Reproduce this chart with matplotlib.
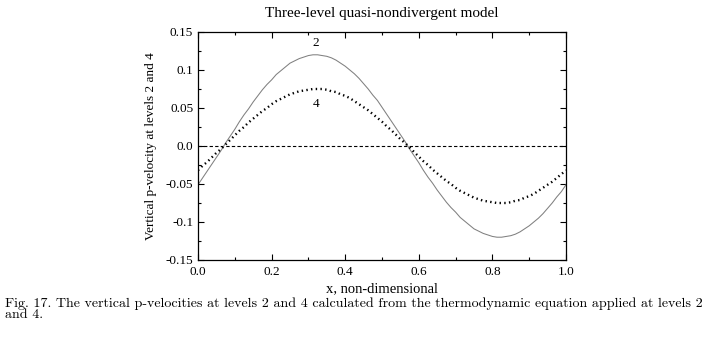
import matplotlib.pyplot as plt
from matplotlib.ticker import MultipleLocator

# values
x = [0.0, 0.0125, 0.025, 0.0375, 0.05, 0.0625, 0.075, 0.0875, 0.1, 0.1125,
     0.125, 0.1375, 0.15, 0.1625, 0.175, 0.1875, 0.2, 0.2125, 0.225, 0.2375,
     0.25, 0.2625, 0.275, 0.2875, 0.3, 0.3125, 0.325, 0.3375, 0.35, 0.3625,
     0.375, 0.3875, 0.4, 0.4125, 0.425, 0.4375, 0.45, 0.4625, 0.475, 0.4875,
     0.5, 0.5125, 0.525, 0.5375, 0.55, 0.5625, 0.575, 0.5875, 0.6, 0.6125,
     0.625, 0.6375, 0.65, 0.6625, 0.675, 0.6875, 0.7, 0.7125, 0.725, 0.7375,
     0.75, 0.7625, 0.775, 0.7875, 0.8, 0.8125, 0.825, 0.8375, 0.85, 0.8625,
     0.875, 0.8875, 0.9, 0.9125, 0.925, 0.9375, 0.95, 0.9625, 0.975, 0.9875,
     1.0]
level2 = [-0.051, -0.042, -0.033, -0.024, -0.015, -0.006, 0.004, 0.013, 0.022, 0.032,
          0.041, 0.049, 0.058, 0.066, 0.074, 0.081, 0.087, 0.094, 0.099, 0.104,
          0.109, 0.112, 0.115, 0.117, 0.119, 0.120, 0.120, 0.119, 0.118, 0.116,
          0.113, 0.109, 0.105, 0.100, 0.095, 0.089, 0.082, 0.075, 0.067, 0.060,
          0.051, 0.042, 0.033, 0.024, 0.015, 0.006, -0.004, -0.013, -0.022, -0.032,
          -0.041, -0.049, -0.058, -0.066, -0.074, -0.081, -0.087, -0.094, -0.099, -0.104,
          -0.109, -0.112, -0.115, -0.117, -0.119, -0.120, -0.120, -0.119, -0.118, -0.116,
          -0.113, -0.109, -0.105, -0.100, -0.095, -0.089, -0.082, -0.075, -0.067, -0.060,
          -0.051]
level4 = [-0.032, -0.026, -0.021, -0.015, -0.009, -0.004, 0.002, 0.008, 0.014, 0.020,
          0.025, 0.031, 0.036, 0.041, 0.046, 0.050, 0.055, 0.059, 0.062, 0.065,
          0.068, 0.070, 0.072, 0.073, 0.074, 0.075, 0.075, 0.075, 0.074, 0.072,
          0.071, 0.068, 0.066, 0.063, 0.059, 0.055, 0.051, 0.047, 0.042, 0.037,
          0.032, 0.026, 0.021, 0.015, 0.009, 0.004, -0.002, -0.008, -0.014, -0.020,
          -0.025, -0.031, -0.036, -0.041, -0.046, -0.050, -0.055, -0.059, -0.062, -0.065,
          -0.068, -0.070, -0.072, -0.073, -0.074, -0.075, -0.075, -0.075, -0.074, -0.072,
          -0.071, -0.068, -0.066, -0.063, -0.059, -0.055, -0.051, -0.047, -0.042, -0.037,
          -0.032]
xticks = [0.0, 0.2, 0.4, 0.6, 0.8, 1.0]
xticklabels = ['0.0', '0.2', '0.4', '0.6', '0.8', '1.0']
yticks = [-0.15, -0.1, -0.05, 0.0, 0.05, 0.1, 0.15]
yticklabels = ['-0.15', '-0.1', '-0.05', '0.0', '0.05', '0.1', '0.15']

plt.rcParams['font.family'] = ['Liberation Serif', 'DejaVu Serif']

fig = plt.figure(figsize=(7.18, 3.46), dpi=100)
ax = fig.add_axes([198 / 718, 1 - 260 / 346, (566 - 198) / 718, (260 - 32) / 346])

ax.axhline(0, color='black', lw=0.8, linestyle=(0, (3, 2)))
ax.plot(x, level2, color='#808080', lw=0.75)
ax.plot(x, level4, color='black', lw=1.7, linestyle=(0, (0.6, 1.4)))

ax.text(0.32, 0.127, '2', ha='center', va='bottom', fontsize=9.5)
ax.text(0.32, 0.063, '4', ha='center', va='top', fontsize=9.5)

ax.set_xlim(0, 1)
ax.set_ylim(-0.15, 0.15)
ax.set_xticks(xticks)
ax.set_xticklabels(xticklabels)
ax.set_yticks(yticks)
ax.set_yticklabels(yticklabels)
ax.xaxis.set_minor_locator(MultipleLocator(0.1))
ax.yaxis.set_minor_locator(MultipleLocator(0.025))
ax.tick_params(which='both', direction='in', top=True, right=True, labelsize=9.5, width=0.8)
ax.tick_params(which='major', length=4)
ax.tick_params(which='minor', length=2.5)
ax.tick_params(axis='x', which='major', pad=4.5)
ax.tick_params(axis='y', which='major', pad=3.5)
for s in ax.spines.values():
    s.set_linewidth(0.9)

ax.set_title('Three-level quasi-nondivergent model', fontsize=11, pad=11)
ax.set_xlabel('x, non-dimensional', fontsize=10.5, labelpad=3)
ax.set_ylabel('Vertical p-velocity at levels 2 and 4', fontsize=9.5, labelpad=6)

caption = ('Fig. 17. The vertical p-velocities at levels 2 and 4 calculated from the '
           'thermodynamic equation applied at levels 2\nand 4.')
fig.text(5 / 718, 1 - 297 / 346, caption, ha='left', va='top', fontsize=10.1,
         family=['cmr10', 'DejaVu Serif'], linespacing=0.95)

fig.savefig('out.png', dpi=100)
